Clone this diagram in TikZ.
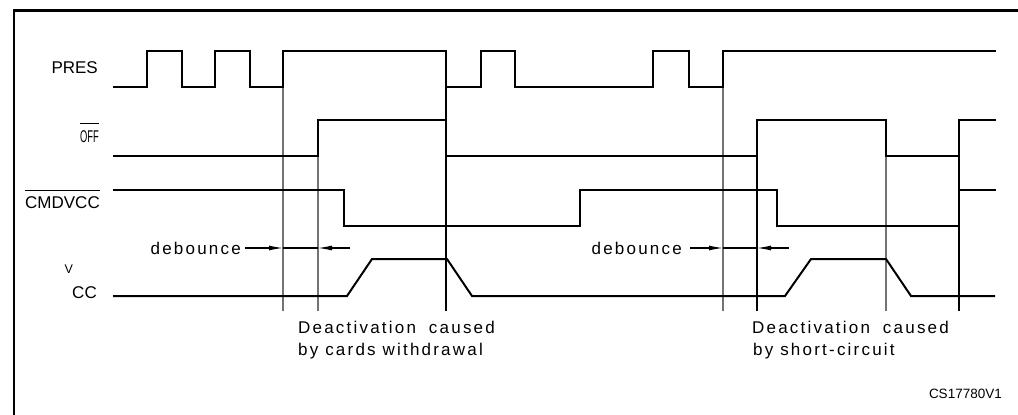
\documentclass[tikz,border=0pt]{standalone}
\usepackage{fontspec}
\usepackage{graphicx}
\setmainfont{Liberation Sans}
\newfontfamily\spaced[LetterSpace=13]{Liberation Sans}
\usetikzlibrary{arrows.meta}
\begin{document}
\begin{tikzpicture}[x=1pt,y=-1pt,
  sig/.style={line width=2pt,line join=miter},
  guide/.style={line width=1.2pt,draw=black!55},
  guideblk/.style={line width=1.1pt,draw=black},
  lbl/.style={inner sep=0pt,font=\fontsize{17}{20}\selectfont},
  txt/.style={inner sep=0pt,anchor=base west,font=\fontsize{17}{20}\selectfont\spaced},
  arr/.style={line width=1.1pt,-{Latex[length=14pt,width=5pt]}}]
\useasboundingbox (0,0) rectangle (1018,415);
% frame
\draw[line width=2.4pt] (14,415) -- (14,10.5) -- (1018,10.5);
% guide lines
\draw[guide] (283,87) -- (283,311);
\draw[guide] (318,156) -- (318,311);
\draw[guideblk] (446,87) -- (446,311);
\draw[guide] (723,87) -- (723,311);
\draw[guideblk] (757,156) -- (757,311);
\draw[guide] (886,156) -- (886,311);
\draw[guideblk] (959,156) -- (959,311);
% signals
\draw[sig] (113,87) -- (147,87) -- (147,51) -- (182,51) -- (182,87) -- (215,87) -- (215,51) -- (250,51) -- (250,87) -- (283,87) -- (283,51) -- (446,51) -- (446,87) -- (481,87) -- (481,51) -- (515,51) -- (515,87) -- (653,87) -- (653,51) -- (689,51) -- (689,87) -- (723,87) -- (723,51) -- (996,51);
\draw[sig] (113,156) -- (318,156) -- (318,120) -- (446,120) -- (446,156) -- (757,156) -- (757,120) -- (886,120) -- (886,156) -- (959,156) -- (959,120) -- (996,120);
\draw[sig] (113,190) -- (344,190) -- (344,226) -- (580,226) -- (580,190) -- (777,190) -- (777,226) -- (959,226) -- (959,190) -- (996,190);
\draw[sig] (113,296) -- (347,296) -- (372,259) -- (447,259) -- (472,296) -- (785,296) -- (811,259) -- (886,259) -- (911,296) -- (995,296);
% labels
\node[lbl,anchor=base east] (pres) at (98,73) {PRES};
\node[lbl,anchor=base east] (off) at (99,142) {\scalebox{0.55}[1]{OFF}};
\draw[line width=1pt] ([yshift=6pt]off.north west) -- ([yshift=6pt]off.north east);
\node[lbl,anchor=base east] (cmd) at (100,208) {CMDVCC};
\draw[line width=1pt] ([yshift=5pt]cmd.north west) -- ([yshift=5pt]cmd.north east);
\node[lbl,anchor=base east] (cc) at (97,298) {CC};
\node[inner sep=0pt,anchor=base east,font=\fontsize{12.5}{14}\selectfont] (v) at (cc.base west) [yshift=25pt,xshift=1pt] {V};
% debounce
\node[txt,anchor=base east] (db1) at (241,254) {debounce};
\draw[arr] (245,248) -- (283,248);
\draw[line width=1.1pt] (283,248) -- (318,248);
\draw[arr] (350,248) -- (318,248);
\node[txt,anchor=base east] (db2) at (682,254) {debounce};
\draw[arr] (690,248) -- (723,248);
\draw[line width=1.1pt] (723,248) -- (757,248);
\draw[arr] (789,248) -- (757,248);
% captions
\node[txt] (c1a) at (298,333) {Deactivation\hspace{6pt} caused};
\node[txt] (c1b) at (298,355) {by cards withdrawal};
\node[txt] (c2a) at (752,333) {Deactivation\hspace{6pt} caused};
\node[txt] (c2b) at (753,355) {by short-circuit};
\node[inner sep=0pt,anchor=base east,font=\fontsize{13.5}{16}\selectfont] (id) at (1002,398) {CS17780V1};
\end{tikzpicture}
\end{document}
